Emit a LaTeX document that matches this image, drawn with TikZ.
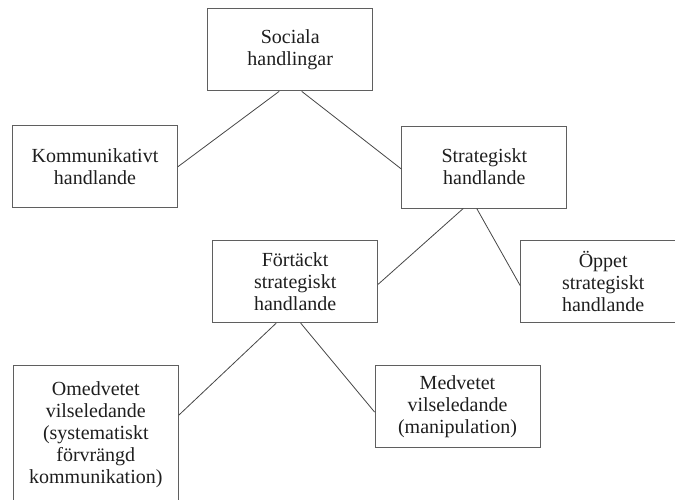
\documentclass[tikz,border=0pt]{standalone}
\usepackage{fontspec}
\setmainfont{Liberation Serif}
\definecolor{boxgray}{RGB}{95,95,95}
\definecolor{linegray}{RGB}{70,70,70}
\definecolor{txt}{RGB}{30,30,30}
\begin{document}
\begin{tikzpicture}[x=1pt,y=-1pt,
  box/.style={draw=boxgray, line width=0.9pt, minimum width=165pt, minimum height=82pt,
    inner sep=0pt, align=center, font=\fontsize{20}{22}\selectfont, text=txt},
  link/.style={draw=linegray, line width=0.8pt}]
\clip (0,0) rectangle (675,500);
\node[box] (soc) at (290.2,49.9) {Sociala\\handlingar};
\node[box] (kom) at (95,166.7) {Kommunikativt\\handlande};
\node[box] (str) at (484.3,167) {Strategiskt\\handlande};
\node[box] (fort) at (295.2,281.7) {Förtäckt\\strategiskt\\handlande};
\node[box] (opp) at (603.2,281.7) {Öppet\\strategiskt\\handlande};
\node[box, minimum height=138pt] (omed) at (95.8,434.7) {Omedvetet\\vilseledande\\(systematiskt\\förvrängd\\kommunikation)};
\node[box] (med) at (457.5,406.7) {Medvetet\\vilseledande\\(manipulation)};
\draw[link] ([xshift=-11pt]soc.south) -- (kom.east);
\draw[link] ([xshift=11.5pt]soc.south) -- ([yshift=-2pt]str.west);
\draw[link] ([xshift=-21pt]str.south) -- ([yshift=-2.6pt]fort.east);
\draw[link] ([xshift=-7.6pt]str.south) -- ([yshift=-4pt]opp.west);
\draw[link] ([xshift=-19pt]fort.south) -- ([yshift=19.5pt]omed.east);
\draw[link] ([xshift=5.5pt]fort.south) -- ([yshift=-5.3pt]med.west);
\end{tikzpicture}
\end{document}
